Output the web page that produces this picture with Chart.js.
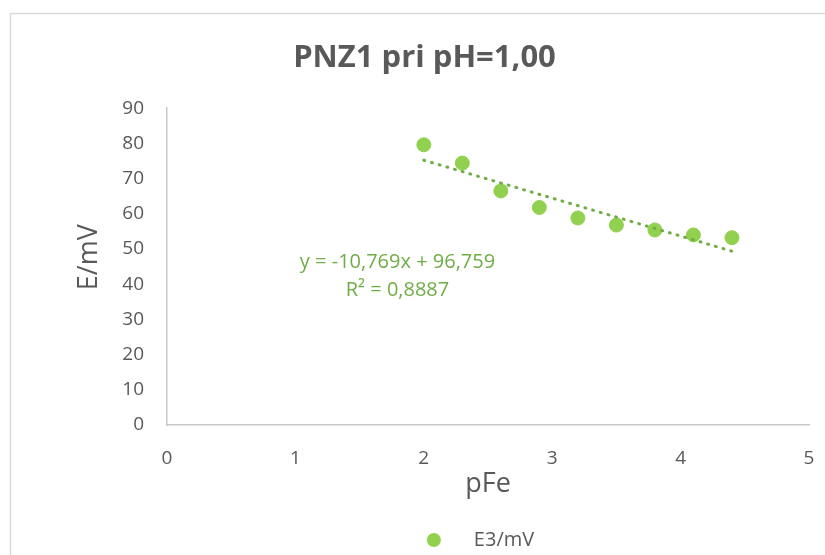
<!DOCTYPE html>
<html>
<head>
<meta charset="utf-8">
<script src="https://cdn.jsdelivr.net/npm/chart.js@4/dist/chart.umd.min.js"></script>
<style>
  html, body { margin: 0; padding: 0; background: #fff; }
  canvas { display: block; }
</style>
</head>
<body>
<canvas id="pnzChart" width="825" height="555"></canvas>
<script>
// Mjerenja: pFe i potencijal E3 (mV)
const pFe = [2.0, 2.3, 2.6, 2.9, 3.2, 3.5, 3.8, 4.1, 4.4];
const E3 = [79.6, 74.4, 66.5, 61.8, 58.8, 56.8, 55.4, 54.0, 53.2];

// Linearni trend (Excel)
const slope = -10.769;
const intercept = 96.759;
const r2 = 0.8887;

const xTicks = [0, 1, 2, 3, 4, 5];
const yTicks = [0, 10, 20, 30, 40, 50, 60, 70, 80, 90];

const seriesName = 'E3/mV';
const chartTitle = 'PNZ1 pri pH=1,00';
const xTitle = 'pFe';
const yTitle = 'E/mV';

const FONT = '"Open Sans", sans-serif';
const TEXT = '#595959';
const MARKER = '#92D050';
const TREND = '#70AD47';

function fmt(v, d) {
    return v.toFixed(d).replace('.', ',');
}

const points = pFe.map((x, i) => ({ x: x, y: E3[i] }));
const xMin = Math.min(...pFe);
const xMax = Math.max(...pFe);
const trend = [xMin, xMax].map(x => ({ x: x, y: slope * x + intercept }));

// sličica za legendu: prazan prostor lijevo, krug desno
function legendMarker(textWidth) {
    const w = Math.round(89 + textWidth);
    const c = document.createElement('canvas');
    c.width = w;
    c.height = 14;
    const g = c.getContext('2d');
    g.fillStyle = MARKER;
    g.beginPath();
    g.arc(w - 30, 7, 7, 0, Math.PI * 2);
    g.fill();
    return c;
}

const measure = document.createElement('canvas').getContext('2d');
measure.font = '20px ' + FONT;
const markerImg = legendMarker(measure.measureText(seriesName).width);

// okvir grafikona
const frame = {
    id: 'frame',
    beforeDraw(chart) {
        const ctx = chart.ctx;
        ctx.save();
        ctx.strokeStyle = '#D9D9D9';
        ctx.lineWidth = 1.5;
        ctx.strokeRect(10.5, 13.5, 1000, 1000);
        ctx.restore();
    }
};

// naslov osi y, jednadžba pravca i R²
const labels = {
    id: 'labels',
    afterDatasetsDraw(chart) {
        const ctx = chart.ctx;
        const a = chart.chartArea;
        ctx.save();
        ctx.textAlign = 'center';
        ctx.textBaseline = 'middle';

        ctx.fillStyle = TEXT;
        ctx.font = '27px ' + FONT;
        ctx.translate(89, a.top + 149);
        ctx.rotate(-Math.PI / 2);
        ctx.fillText(yTitle, 0, 0);
        ctx.setTransform(1, 0, 0, 1, 0, 0);

        const cx = a.left + 230.5;
        ctx.fillStyle = TREND;
        ctx.font = '20px ' + FONT;
        ctx.fillText('y = ' + fmt(slope, 3) + 'x + ' + fmt(intercept, 3), cx, a.top + 154);
        ctx.fillText('R² = ' + fmt(r2, 4), cx, a.top + 182);
        ctx.restore();
    }
};

new Chart(document.getElementById('pnzChart'), {
    type: 'scatter',
    data: {
        datasets: [{
            label: 'trend',
            type: 'line',
            data: trend,
            showLine: true,
            borderColor: TREND,
            borderWidth: 3,
            borderDash: [1, 7],
            borderCapStyle: 'round',
            pointRadius: 0,
            fill: false,
            order: 0
        }, {
            label: seriesName,
            data: points,
            backgroundColor: MARKER,
            borderColor: MARKER,
            pointRadius: 7,
            pointHoverRadius: 7,
            order: 1
        }]
    },
    options: {
        responsive: false,
        animation: false,
        layout: { padding: { left: 40, right: 16, top: 0, bottom: -5 } },
        plugins: {
            title: {
                display: true,
                text: chartTitle,
                color: TEXT,
                font: { family: FONT, size: 31, weight: 'bold' },
                padding: { top: 40, bottom: 31 }
            },
            legend: {
                position: 'bottom',
                labels: {
                    filter: item => item.text === seriesName,
                    usePointStyle: true,
                    pointStyle: markerImg,
                    pointStyleWidth: markerImg.width,
                    color: TEXT,
                    font: { family: FONT, size: 20 },
                    padding: 2
                }
            },
            tooltip: { enabled: false }
        },
        scales: {
            x: {
                type: 'linear',
                min: 0,
                max: 5,
                afterBuildTicks: s => { s.ticks = xTicks.map(v => ({ value: v })); },
                afterFit: s => {
                    s.height = 103;
                    s.paddingLeft = 0;
                    s.paddingRight = 0;
                },
                grid: { display: false, drawTicks: false },
                border: { display: true, color: '#C8C8C8', width: 1.5 },
                ticks: { color: TEXT, font: { family: FONT, size: 19 }, padding: 22 },
                title: {
                    display: true,
                    text: xTitle,
                    color: TEXT,
                    font: { family: FONT, size: 27 },
                    padding: { top: 0, bottom: 27 }
                }
            },
            y: {
                min: 0,
                max: 90,
                afterBuildTicks: s => { s.ticks = yTicks.map(v => ({ value: v })); },
                afterFit: s => { s.width = 127; },
                grid: { display: false, drawTicks: false },
                border: { display: true, color: '#C8C8C8', width: 1.5 },
                ticks: { color: TEXT, font: { family: FONT, size: 19 }, padding: 23 }
            }
        }
    },
    plugins: [frame, labels]
});
</script>
</body>
</html>
